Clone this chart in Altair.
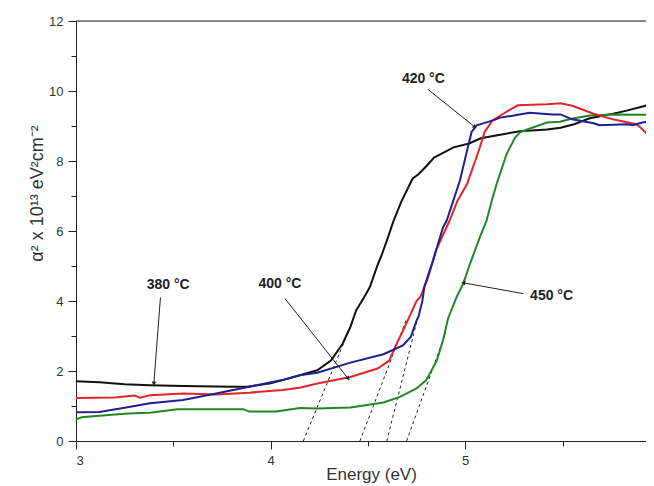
import altair as alt
import pandas as pd

# ---- data ----
series_names = ["380 °C", "400 °C", "420 °C", "450 °C"]
series_colors = ["#111111", "#e3242b", "#1f1f8f", "#1f8a24"]

energy_380 = [3.00, 3.12, 3.25, 3.38, 3.55, 3.72, 3.81, 3.89, 4.00, 4.06, 4.15, 4.24, 4.31, 4.37,
              4.41, 4.44, 4.48, 4.51, 4.55, 4.57, 4.60, 4.63, 4.67, 4.73, 4.76, 4.80, 4.84, 4.94,
              5.02, 5.08, 5.18, 5.28, 5.42, 5.49, 5.56, 5.64, 5.76, 5.83, 5.97]
alpha_380 = [1.71, 1.68, 1.62, 1.59, 1.57, 1.56, 1.55, 1.56, 1.65, 1.74, 1.88, 2.02, 2.30, 2.78,
             3.26, 3.74, 4.10, 4.40, 5.03, 5.30, 5.77, 6.26, 6.82, 7.50, 7.62, 7.85, 8.10, 8.39,
             8.50, 8.65, 8.75, 8.85, 8.90, 8.95, 9.05, 9.22, 9.35, 9.44, 9.64]

energy_400 = [3.00, 3.20, 3.30, 3.33, 3.38, 3.55, 3.72, 3.89, 4.06, 4.15, 4.24, 4.41, 4.55, 4.61,
              4.64, 4.68, 4.72, 4.75, 4.77, 4.81, 4.85, 4.92, 4.96, 5.01, 5.07, 5.10, 5.14, 5.21,
              5.27, 5.42, 5.49, 5.55, 5.66, 5.76, 5.80, 5.88, 5.90, 5.95, 5.97]
alpha_400 = [1.23, 1.24, 1.30, 1.24, 1.31, 1.36, 1.33, 1.38, 1.46, 1.52, 1.64, 1.83, 2.07, 2.30,
             2.69, 3.15, 3.63, 4.00, 4.12, 4.69, 5.45, 6.30, 6.86, 7.35, 8.30, 8.83, 9.16, 9.40,
             9.59, 9.62, 9.65, 9.58, 9.35, 9.19, 9.14, 9.05, 8.96, 8.69, 8.60]

energy_420 = [3.00, 3.12, 3.25, 3.38, 3.55, 3.72, 3.89, 4.06, 4.15, 4.24, 4.41, 4.58, 4.68, 4.72,
              4.75, 4.76, 4.78, 4.79, 4.835, 4.886, 4.905, 4.973, 5.014, 5.033, 5.059, 5.143, 5.18,
              5.25, 5.33, 5.45, 5.49, 5.55, 5.66, 5.69, 5.83, 5.86, 5.91, 5.97]
alpha_420 = [0.82, 0.83, 0.95, 1.08, 1.17, 1.36, 1.55, 1.74, 1.88, 1.95, 2.24, 2.48, 2.73, 2.97,
             3.44, 3.55, 4.01, 4.40, 5.16, 6.10, 6.30, 7.44, 8.40, 8.83, 9.02, 9.16, 9.24,
             9.30, 9.38, 9.33, 9.33, 9.19, 9.08, 9.02, 9.05, 9.02, 9.10, 9.15]

energy_450 = [3.00, 3.03, 3.12, 3.25, 3.33, 3.38, 3.52, 3.86, 3.89, 4.03, 4.15, 4.24, 4.41, 4.58,
              4.665, 4.75, 4.80, 4.855, 4.886, 4.912, 4.956, 4.99, 5.025, 5.076, 5.11, 5.136,
              5.162, 5.213, 5.256, 5.282, 5.318, 5.42, 5.487, 5.54, 5.64, 5.76, 5.97]
alpha_450 = [0.62, 0.68, 0.72, 0.78, 0.80, 0.81, 0.91, 0.91, 0.84, 0.84, 0.94, 0.93, 0.96, 1.10,
             1.26, 1.50, 1.74, 2.31, 2.88, 3.50, 4.12, 4.50, 5.07, 5.83, 6.30, 6.86,
             7.35, 8.20, 8.67, 8.82, 8.90, 9.10, 9.12, 9.20, 9.30, 9.33, 9.32]

# tangent (extrapolation) lines: start on the energy axis, end on the curve
tangent_x_start = [4.168, 4.459, 4.597, 4.699]
tangent_x_end = [4.42, 4.70, 4.76, 4.90]
tangent_y_end = [3.40, 3.50, 3.60, 3.10]

# annotations
label_text = ["380 °C", "400 °C", "420 °C", "450 °C"]
label_x = [3.474, 4.048, 4.785, 5.444]
label_y = [4.47, 4.50, 10.35, 4.13]
arrow_x1 = [3.434, 4.074, 4.810, 5.299]
arrow_y1 = [4.10, 4.07, 10.04, 4.21]
arrow_x2 = [3.400, 4.399, 5.050, 4.990]
arrow_y2 = [1.64, 1.78, 8.97, 4.52]
arrow_angle = [184, 142, 129, 280]

x_ticks = [3, 3.5, 4, 4.5, 5, 5.5]
y_ticks = list(range(0, 13))

# ---- build tables ----
curves = {
    "380 °C": (energy_380, alpha_380),
    "400 °C": (energy_400, alpha_400),
    "420 °C": (energy_420, alpha_420),
    "450 °C": (energy_450, alpha_450),
}
rows = []
for name, (xs_, ys_) in curves.items():
    for i, (xv, yv) in enumerate(zip(xs_, ys_)):
        rows.append({"series": name, "E": xv, "a": yv, "i": i})
df = pd.DataFrame(rows)

tan_rows = []
for k in range(4):
    tan_rows.append({"g": k, "E": tangent_x_start[k], "a": 0.0})
    tan_rows.append({"g": k, "E": tangent_x_end[k], "a": tangent_y_end[k]})
tan_df = pd.DataFrame(tan_rows)

ann_df = pd.DataFrame({
    "text": label_text, "lx": label_x, "ly": label_y,
    "x1": arrow_x1, "y1": arrow_y1, "x2": arrow_x2, "y2": arrow_y2,
    "angle": arrow_angle,
})

XMAX = 3 + 570 / 194.6
xs = alt.Scale(domain=[3, XMAX], nice=False, zero=False)
ys = alt.Scale(domain=[0, 12], nice=False, zero=False)

FONT = "Liberation Sans"

x_axis = alt.Axis(
    title="Energy (eV)", values=x_ticks,
    labelExpr="datum.value % 1 == 0 ? format(datum.value, 'd') : ''",
    grid=False, domainColor="#222", tickColor="#222",
    tickSize={"condition": {"test": "datum.value % 1 != 0", "value": 5}, "value": 8},
    labelFont=FONT, labelFontSize=13, labelColor="#333", labelPadding=5,
    titleFont=FONT, titleFontSize=17, titleFontWeight="normal", titleColor="#333",
    titleX=295, titleY=38, titleBaseline="alphabetic", titleAnchor="middle", titleAlign="center",
)
y_axis = alt.Axis(
    title="α² x 10¹³ eV²cm⁻²", values=y_ticks,
    labelExpr="datum.value % 2 == 0 ? format(datum.value, 'd') : ''",
    grid=False, domainColor="#222", tickColor="#222",
    tickSize={"condition": {"test": "datum.value % 2 == 1", "value": 5}, "value": 8},
    labelFont=FONT, labelFontSize=13, labelColor="#333", labelPadding=5,
    titleFont=FONT, titleFontSize=18, titleFontWeight="normal", titleColor="#333",
    titleAngle=270, titleX=-34, titleY=172, titleBaseline="alphabetic", titleAlign="center",
)

layers = []
# top frame line
top = alt.Chart(pd.DataFrame({"a": [12]})).mark_rule(color="#222", strokeWidth=1).encode(
    y=alt.Y("a:Q", scale=ys, axis=y_axis)
)
layers.append(top)

tangents = alt.Chart(tan_df).mark_line(color="#222", strokeWidth=1, strokeDash=[3, 3]).encode(
    x=alt.X("E:Q", scale=xs, axis=x_axis),
    y=alt.Y("a:Q", scale=ys, axis=y_axis),
    detail="g:N",
)
layers.append(tangents)

draw_order = ["380 °C", "450 °C", "400 °C", "420 °C"]
for name in draw_order:
    col = series_colors[series_names.index(name)]
    layers.append(
        alt.Chart(df[df.series == name]).mark_line(color=col, strokeWidth=2, clip=True).encode(
            x=alt.X("E:Q", scale=xs, axis=x_axis),
            y=alt.Y("a:Q", scale=ys, axis=y_axis),
            order="i:Q",
        )
    )

arrows = alt.Chart(ann_df).mark_rule(color="#222", strokeWidth=1).encode(
    x=alt.X("x1:Q", scale=xs, axis=x_axis), y=alt.Y("y1:Q", scale=ys, axis=y_axis),
    x2="x2:Q", y2="y2:Q",
)
heads = alt.Chart(ann_df).mark_point(shape="triangle-up", filled=True, color="#222", size=22, opacity=1).encode(
    x=alt.X("x2:Q", scale=xs, axis=x_axis), y=alt.Y("y2:Q", scale=ys, axis=y_axis),
    angle=alt.Angle("angle:Q", scale=None),
)
texts = alt.Chart(ann_df).mark_text(font=FONT, fontSize=14, fontWeight="bold", color="#222").encode(
    x=alt.X("lx:Q", scale=xs, axis=x_axis), y=alt.Y("ly:Q", scale=ys, axis=y_axis),
    text="text:N",
)
layers += [arrows, heads, texts]

chart = alt.layer(*layers).properties(
    width=570, height=420,
    padding={"left": 68, "top": 13, "right": 0, "bottom": 44},
    autosize=alt.AutoSizeParams(type="none"),
).configure_view(stroke=None).configure(background="white")

chart.save("out.html", embed_options={"renderer": "svg", "actions": False})
